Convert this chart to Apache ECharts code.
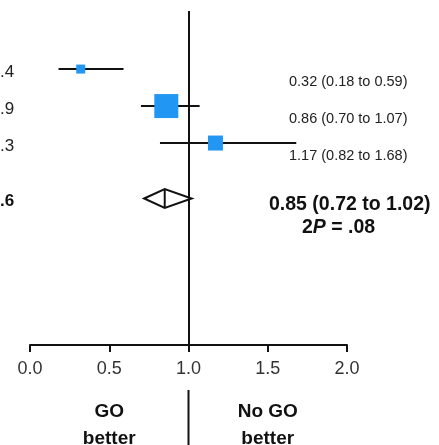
<!DOCTYPE html>
<html>
<head>
<meta charset="utf-8">
<script src="https://cdn.jsdelivr.net/npm/echarts@6/dist/echarts.min.js"></script>
<style>
html, body { margin: 0; padding: 0; background: #fff; }
#main { width: 439px; height: 445px; }
</style>
</head>
<body>
<div id="main"></div>
<script>
// study rows (top to bottom)
var rows = [1, 2, 3];
var estimates = [0.32, 0.86, 1.17];
var lower = [0.18, 0.70, 0.82];
var upper = [0.59, 1.07, 1.68];
var leftLabels = ['.4', '.9', '.3'];
var rightLabels = ['0.32 (0.18 to 0.59)', '0.86 (0.70 to 1.07)', '1.17 (0.82 to 1.68)'];

// pooled estimate
var pooledRow = 4.5;
var pooledLower = 0.72;
var pooledEst = 0.85;
var pooledUpper = 1.02;
var pooledLeft = '.6';
var pooledText = '0.85 (0.72 to 1.02)';
var pooledP = ['2', 'P', ' = .08'];

var xTicks = [0, 0.5, 1, 1.5, 2];
var sideLabels = ['GO\nbetter', 'No GO\nbetter'];
var sidePos = [0.5, 1.5];

var squareSizes = [9, 24, 15];
var FONT = 'Liberation Sans, Arial, Helvetica, sans-serif';
var INK = '#111';

var chart = echarts.init(document.getElementById('main'));

var option = {
    animation: false,
    grid: { left: 30, right: 92, top: 11, bottom: 100 },
    xAxis: {
        type: 'value',
        min: xTicks[0],
        max: xTicks[xTicks.length - 1],
        interval: 0.5,
        splitLine: { show: false },
        axisLine: { show: true, onZero: false, lineStyle: { color: INK, width: 2 } },
        axisTick: { show: true, length: 7, lineStyle: { color: INK, width: 2 } },
        axisLabel: {
            fontFamily: FONT, fontSize: 18, color: '#333', margin: 15,
            formatter: function (v) { return v.toFixed(1); }
        }
    },
    yAxis: {
        type: 'value', inverse: true, min: -0.57, max: 8.46, show: false
    },
    series: [
        {
            // confidence interval lines
            type: 'custom',
            data: rows.map(function (r, i) { return [lower[i], upper[i], r]; }),
            encode: { x: [0, 1], y: 2 },
            renderItem: function (params, api) {
                var a = api.coord([api.value(0), api.value(2)]);
                var b = api.coord([api.value(1), api.value(2)]);
                return {
                    type: 'line',
                    shape: { x1: a[0], y1: a[1], x2: b[0], y2: b[1] },
                    style: { stroke: INK, lineWidth: 2 }
                };
            },
            z: 2
        },
        {
            type: 'scatter',
            data: rows.map(function (r, i) { return [estimates[i], r]; }),
            symbol: 'rect',
            symbolSize: function (v, p) { return squareSizes[p.dataIndex]; },
            itemStyle: { color: '#2196F3', opacity: 1 },
            z: 3,
            markLine: {
                silent: true,
                symbol: 'none',
                label: { show: false },
                lineStyle: { color: INK, width: 2, type: 'solid' },
                data: [{ xAxis: 1 }]
            }
        },
        {
            // pooled diamond
            type: 'custom',
            data: [[pooledLower, pooledEst, pooledUpper, pooledRow]],
            encode: { x: [0, 1, 2], y: 3 },
            renderItem: function (params, api) {
                var y = api.value(3);
                var l = api.coord([api.value(0), y]);
                var m = api.coord([api.value(1), y]);
                var r = api.coord([api.value(2), y]);
                var h = 9.5;
                return {
                    type: 'group',
                    children: [
                        {
                            type: 'polygon',
                            shape: { points: [[l[0], l[1]], [m[0], m[1] - h], [r[0], r[1]], [m[0], m[1] + h]] },
                            style: { fill: '#fff', stroke: INK, lineWidth: 2, lineJoin: 'miter' }
                        },
                        {
                            type: 'line',
                            shape: { x1: m[0], y1: m[1] - h, x2: m[0], y2: m[1] + h },
                            style: { stroke: INK, lineWidth: 2 }
                        }
                    ]
                };
            },
            z: 4
        },
        {
            // row texts
            type: 'custom',
            data: rows.map(function (r, i) { return [0, r, i]; }).concat([[0, pooledRow, 3]]),
            encode: { x: 0, y: 1 },
            renderItem: function (params, api) {
                var i = api.value(2);
                var p = api.coord([0, api.value(1)]);
                var children = [];
                if (i < 3) {
                    children.push({
                        type: 'text',
                        style: { text: leftLabels[i], x: 0, y: p[1] + 3, fontFamily: FONT, fontSize: 17, fill: '#222', verticalAlign: 'middle' }
                    });
                    children.push({
                        type: 'text',
                        style: { text: rightLabels[i], x: 289, y: p[1] + 13, fontFamily: FONT, fontSize: 14.5, fill: '#222', verticalAlign: 'middle' }
                    });
                } else {
                    children.push({
                        type: 'text',
                        style: { text: pooledLeft, x: 0, y: p[1] + 3, fontFamily: FONT, fontSize: 17, fontWeight: 'bold', fill: '#111', verticalAlign: 'middle' }
                    });
                    children.push({
                        type: 'text',
                        style: { text: pooledText, x: 269, y: p[1] + 6, fontFamily: FONT, fontSize: 19.5, fontWeight: 'bold', fill: '#111', verticalAlign: 'middle' }
                    });
                    children.push({
                        type: 'text',
                        style: {
                            text: '{b|' + pooledP[0] + '}{i|' + pooledP[1] + '}{b|' + pooledP[2] + '}',
                            x: 302, y: p[1] + 29, verticalAlign: 'middle',
                            rich: {
                                b: { fontFamily: FONT, fontSize: 19.5, fontWeight: 'bold', fill: '#111', color: '#111' },
                                i: { fontFamily: FONT, fontSize: 19.5, fontWeight: 'bold', fontStyle: 'italic', fill: '#111', color: '#111' }
                            }
                        }
                    });
                }
                return { type: 'group', children: children };
            },
            z: 5
        }
    ]
};

chart.setOption(option);

// labels under the axis and the short divider between them
var xOne = chart.convertToPixel({ xAxisIndex: 0 }, 1);
var graphics = [{
    type: 'line',
    shape: { x1: xOne, y1: 390, x2: xOne, y2: 445 },
    style: { stroke: INK, lineWidth: 2 }
}];
sideLabels.forEach(function (t, i) {
    graphics.push({
        type: 'text',
        x: chart.convertToPixel({ xAxisIndex: 0 }, sidePos[i]),
        y: 398,
        style: {
            text: t, align: 'center', verticalAlign: 'top',
            fontFamily: FONT, fontSize: 19, fontWeight: 'bold', fill: '#111', lineHeight: 27
        }
    });
});
chart.setOption({ graphic: graphics });
</script>
</body>
</html>
